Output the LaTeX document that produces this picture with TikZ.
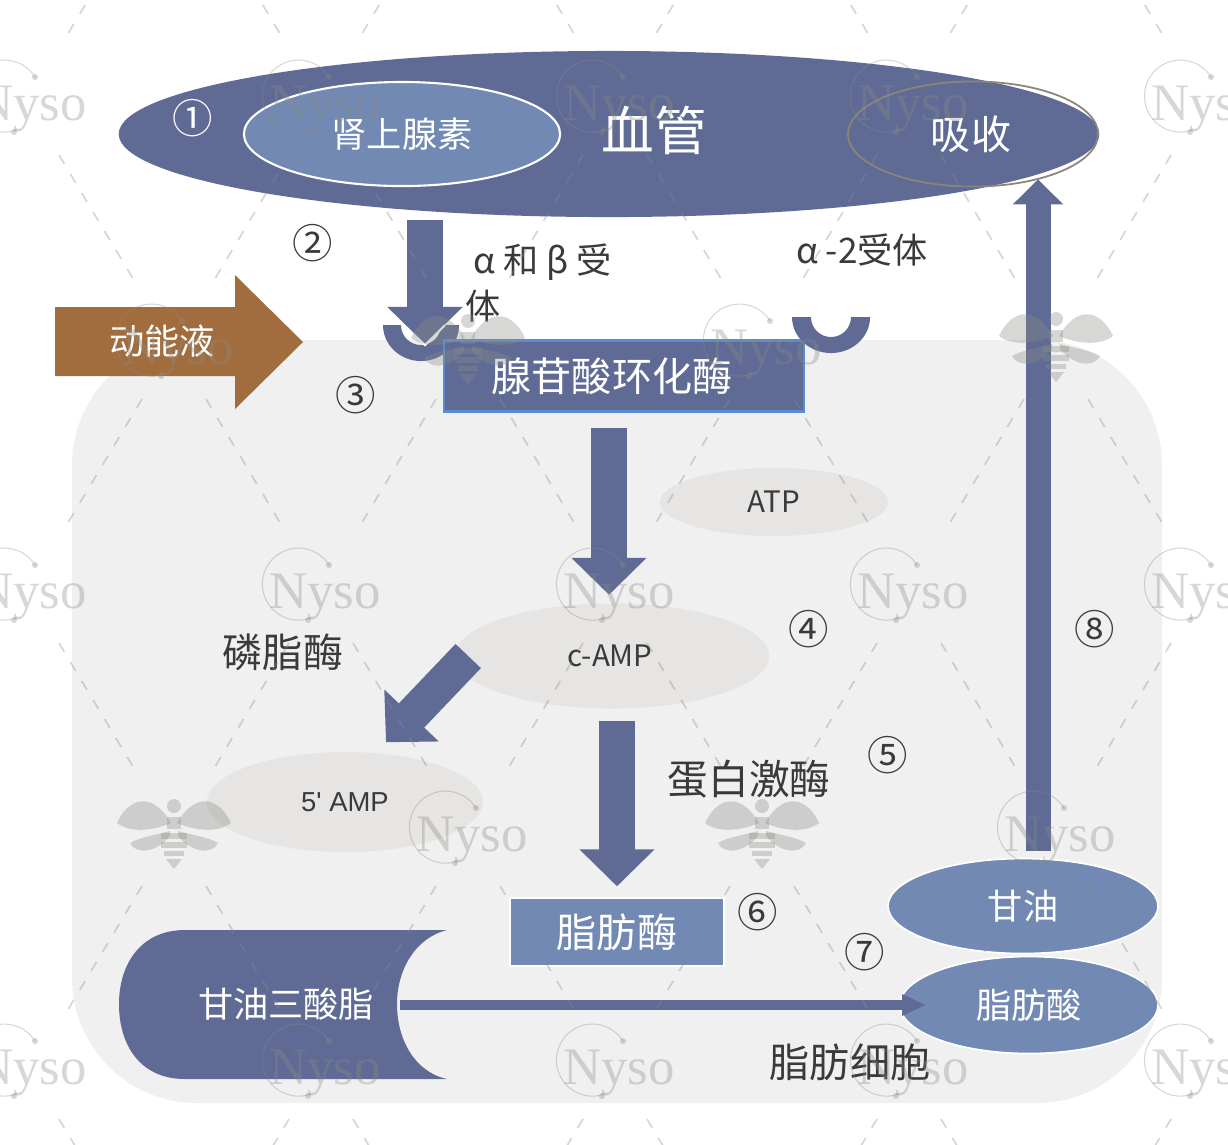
\documentclass[tikz,border=0pt]{standalone}
\usepackage{fontspec}
\setmainfont{Noto Sans CJK SC}
\newfontfamily\nysofont{Liberation Serif}
\newfontfamily\latinfont{Liberation Sans}
\usetikzlibrary{arrows.meta, positioning, calc, shapes.geometric}
\definecolor{navy}{RGB}{95,107,148}
\definecolor{steel}{RGB}{114,137,179}
\definecolor{rust}{RGB}{162,109,62}
\definecolor{cell}{RGB}{240,240,240}
\definecolor{pale}{RGB}{230,229,227}
\definecolor{ink}{RGB}{58,58,58}
\definecolor{edgeblue}{RGB}{91,139,208}
\definecolor{edgetan}{RGB}{139,132,120}
\definecolor{wmgrey}{RGB}{140,140,135}
\tikzset{
  blob/.style={ellipse, inner sep=0pt, text=white},
  greyblob/.style={ellipse, inner sep=0pt, fill=pale, text=ink},
  bigtext/.style={font=\fontsize{11.4}{13}\selectfont},
  midtext/.style={font=\fontsize{10}{12}\selectfont},
  num/.style={font=\fontsize{11.5}{13}\selectfont, text=ink, inner sep=0pt},
  blockarrow/.style={navy, line width=0.36cm, -{Triangle[length=0.37cm,width=0.73cm]}},
  lattice/.style={wmgrey, opacity=0.35, line width=0.5pt, dash pattern=on 2.9pt off 3.4pt},
  wm/.style={wmgrey, opacity=0.35}
}
\begin{document}
\begin{tikzpicture}[x=0.01cm, y=-0.01cm]
  \useasboundingbox (0,0) rectangle (1228,1144);
  \clip (0,0) rectangle (1228,1144);
  \fill[cell, rounded corners=1.25cm] (72,340) rectangle (1162,1103);

  % blood vessel
  \node[blob, fill=navy, minimum width=9.8cm, minimum height=1.66cm] (vessel) at (609,134) {};
  \node[blob, fill=steel, draw=white, line width=0.6pt, minimum width=3.16cm, minimum height=1.04cm, midtext] (adrenaline) at (402,134) {肾上腺素};
  \node[text=white, font=\fontsize{15}{17}\selectfont, inner sep=0pt] (vesseltext) at (654,130) {血管};
  \node[blob, draw=edgetan, line width=0.5pt, minimum width=2.5cm, minimum height=1.05cm, bigtext] (absorb) at (973,134) {吸收\kern0.04cm};

  % receptors
  \coordinate (cupa) at (421,325);
  \coordinate (cupb) at (831,317);
  \fill[navy] ($(cupa)+(-38,0)$) arc[start angle=180, end angle=360, x radius=0.38cm, y radius=0.36cm] -- ($(cupa)+(20,0)$) arc[start angle=0, end angle=-180, radius=0.2cm] -- cycle;
  \node[fill=navy, draw=edgeblue, line width=0.7pt, minimum width=3.6cm, minimum height=0.71cm, inner sep=0pt, text=white, bigtext] (cyclase) at (624,376) {腺苷酸环化酶\kern0.24cm};
  \fill[navy] ($(cupb)+(-39,0)$) arc[start angle=180, end angle=360, x radius=0.39cm, y radius=0.36cm] -- ($(cupb)+(20,0)$) arc[start angle=0, end angle=-180, radius=0.2cm] -- cycle;
  \node[text=ink, midtext, align=left, inner sep=0pt, anchor=north west] (abtext) at (465,243) {\ α 和 β 受\\[1pt]体};
  \node[text=ink, midtext, inner sep=0pt] (a2text) at (862,250) {α -2受体};

  % kinetic fluid
  \fill[rust] (55,307) -- (235,307) -- (235,275) -- (303,342) -- (235,409) -- (235,376) -- (55,376) -- cycle;
  \node[text=white, midtext, inner sep=0pt] (fluid) at (162,341) {动能液};

  % cell contents
  \node[greyblob, minimum width=2.28cm, minimum height=0.68cm, font=\fontsize{8.4}{10}\selectfont] (atp) at (774,502) {ATP};
  \node[greyblob, minimum width=3.14cm, minimum height=1.05cm, font=\fontsize{8.4}{10}\selectfont] (camp) at (612,656) {c-AMP\kern0.04cm};
  \node[greyblob, minimum width=2.76cm, minimum height=1cm, font=\latinfont\fontsize{7.8}{10}\selectfont] (ampfive) at (345,802) {5' AMP};
  \node[text=ink, bigtext, inner sep=0pt] (lipo) at (283,652) {磷脂酶};
  \node[text=ink, font=\fontsize{11.6}{13}\selectfont, inner sep=0pt] (kinase) at (749,779) {蛋白激酶};
  \node[fill=steel, draw=white, line width=0.4pt, minimum width=2.14cm, minimum height=0.68cm, inner sep=0pt, text=white, bigtext] (lipase) at (617,932) {脂肪酶};
  \fill[navy] (447,930) -- (185,930) .. controls (140,930) and (119,965) .. (119,1004) .. controls (119,1045) and (140,1079) .. (185,1079) -- (447,1079) .. controls (415,1072) and (397,1040) .. (397,1004) .. controls (397,970) and (415,938) .. (447,930) -- cycle;
  \node[text=white, midtext, inner sep=0pt] (tag) at (286,1004) {甘油三酸脂};
  \node[blob, fill=steel, draw=white, line width=0.5pt, minimum width=2.7cm, minimum height=0.95cm, midtext] (glycerol) at (1023,906) {甘油};
  \node[blob, fill=steel, draw=white, line width=0.5pt, minimum width=2.58cm, minimum height=0.97cm, midtext] (acid) at (1029,1005) {脂肪酸};
  \node[text=ink, bigtext, inner sep=0pt] (fatcell) at (850,1062) {脂肪细胞};
  \coordinate (tagend) at (400,1005);

  % connectors
  \draw[blockarrow] ($(vessel.south)+(-184,2)$) -- ($(cupa)+(4,19)$);
  \draw[white, line width=0.6pt] ($(cupa)+(-18,0)$) -- ($(cupa)+(4,20)$) -- ($(cupa)+(24,0)$);
  \draw[blockarrow] ($(cyclase.south)+(-15,15)$) -- ($(camp.north)+(-3,-8)$);
  \draw[blockarrow, line width=0.35cm] ($(camp.west)+(14,0)$) -- ($(ampfive.north)+(41,-9)$);
  \draw[blockarrow] ($(camp.south)+(5,12)$) -- ($(lipase.north)+(0,-11)$);
  \draw[navy, line width=0.25cm, -{Triangle[length=0.25cm,width=0.49cm]}] ($(glycerol.north)+(15,-7)$) -- ($(absorb.south)+(65,-8)$);
  \draw[navy, line width=0.1cm, -{Triangle[length=0.24cm,width=0.2cm]}] (tagend) -- ($(acid.west)+(27,0)$);

  % step numbers
  \node[num, text=white] (stepa) at (193,118) {①};
  \foreach \n/\x/\y/\t in {b/313/243/②, c/356/395/③, d/809/629/④, e/888/755/⑤, f/758/912/⑥, g/865/952/⑦, h/1095/629/⑧} {
    \node[num] (step\n) at (\x,\y) {\t};
  }

  % background marks
  \foreach \y/\o in {-143/174, 102/27, 346/174, 590/27, 833/174, 1066/27} {
    \foreach \k in {-1,0,...,4} {
      \pgfmathsetmacro{\x}{\o+294*\k}
      \draw[lattice] ({\x-32},{\y+53}) -- ({\x-111},{\y+185});
      \draw[lattice] ({\x+32},{\y+53}) -- ({\x+111},{\y+185});
    }
  }
  \foreach \x/\y in {27/102,321/102,615/102,909/102,1203/102,174/346,762/346,27/590,321/590,615/590,909/590,1203/590,468/833,1056/833,27/1066,321/1066,615/1066,909/1066,1203/1066} {
    \draw[wm, line width=0.3pt] ({\x+8},{\y-25}) arc[start angle=32, end angle=290, radius=0.36cm];
    \fill[wm] ({\x+8},{\y-25}) circle (3);
    \fill[wm] ({\x-13},{\y+30}) circle (3);
    \node[text=wmgrey, text opacity=0.35, anchor=base, inner sep=0pt, font=\nysofont\fontsize{15}{15}\selectfont] (nyso\x\y) at ({\x+4},{\y+18}) {Nyso};
  }
  \foreach \x/\y in {468/340,1056/338,174/825,762/825} {
    \begin{scope}[shift={(\x,\y)}]
      \fill[wm] (-3,-2) .. controls (-20,-32) and (-44,-30) .. (-57,-2) .. controls (-44,8) and (-22,6) .. (-3,-2) -- cycle;
      \fill[wm] (3,-2) .. controls (20,-32) and (44,-30) .. (57,-2) .. controls (44,8) and (22,6) .. (3,-2) -- cycle;
      \fill[wm] (-4,6) .. controls (-18,10) and (-34,12) .. (-44,18) .. controls (-38,30) and (-18,28) .. (-4,11) -- cycle;
      \fill[wm] (4,6) .. controls (18,10) and (34,12) .. (44,18) .. controls (38,30) and (18,28) .. (4,11) -- cycle;
      \fill[wm] (0,-19) circle (7);
      \fill[wm] (-7,-8) rectangle (7,4);
      \fill[wm] (-13,8) rectangle (13,14);
      \fill[wm] (-13,17) rectangle (13,23);
      \fill[wm] (-10,26) rectangle (10,31);
      \fill[wm] (-8,34) -- (8,34) -- (0,44) -- cycle;
    \end{scope}
  }
\end{tikzpicture}
\end{document}
